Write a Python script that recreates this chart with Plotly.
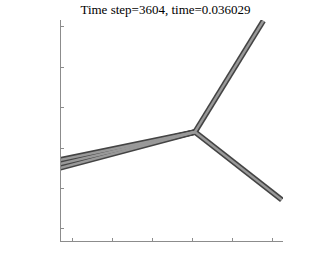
import plotly.graph_objects as go

# Network of tubes: junction and branch ends (data units)
junction = (3.06, 2.40)
branch_x = [4.76, 5.22, -0.30, -0.30, -0.30]
branch_y = [5.15, 0.72, 1.71, 1.61, 1.51]
x_ticks = [0, 1, 2, 3, 4, 5]
y_ticks = [0, 1, 2, 3, 4, 5]
title_text = "Time step=3604, time=0.036029"

fig = go.Figure()
for bx, by in zip(branch_x, branch_y):
    xs = [junction[0], bx]
    ys = [junction[1], by]
    fig.add_trace(go.Scatter(x=xs, y=ys, mode="lines",
                             line=dict(color="#444444", width=5.5),
                             hoverinfo="skip", showlegend=False))
for bx, by in zip(branch_x, branch_y):
    xs = [junction[0], bx]
    ys = [junction[1], by]
    fig.add_trace(go.Scatter(x=xs, y=ys, mode="lines",
                             line=dict(color="#999999", width=2.4),
                             hoverinfo="skip", showlegend=False))

axis_style = dict(showgrid=False, zeroline=False, showline=True,
                  linecolor="#8c8c8c", linewidth=1, ticks="inside",
                  ticklen=3, tickcolor="#8c8c8c", showticklabels=False,
                  tickmode="array", mirror=False)
fig.update_xaxes(range=[-0.274, 5.25], tickvals=x_ticks, **axis_style)
fig.update_yaxes(range=[-0.297, 5.17], tickvals=y_ticks, **axis_style)

fig.update_layout(
    width=331, height=273,
    margin=dict(l=61, r=48, t=20, b=32),
    paper_bgcolor="white", plot_bgcolor="white",
    hovermode=False,
    title=dict(text=title_text, x=0.5, xanchor="center", y=0.965, yanchor="middle",
               font=dict(family="Liberation Serif", size=13, color="black")),
)
fig.write_html("out.html", config={"displayModeBar": False, "staticPlot": True},
               post_script="document.body.style.margin='0';document.body.style.overflow='hidden';")
